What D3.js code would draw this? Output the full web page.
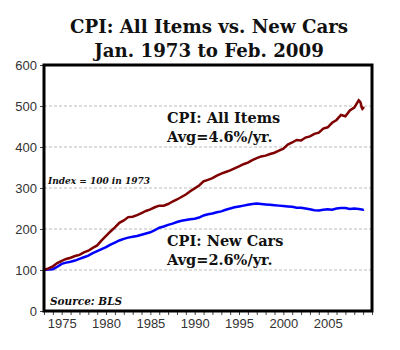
<!DOCTYPE html>
<html>
<head>
<meta charset="utf-8">
<script src="https://cdn.jsdelivr.net/npm/d3@7"></script>
<style>
  body { margin: 0; background: #fff; }
  #chart { width: 400px; height: 350px; }
  .title { font-family: "DejaVu Serif", Georgia, serif; font-weight: bold; font-size: 18.2px; fill: #111; }
  .tick text { font-family: "Liberation Sans", Arial, sans-serif; font-size: 13px; fill: #333; }
  .note { font-family: "DejaVu Serif", Georgia, serif; font-weight: bold; font-style: italic; font-size: 9px; fill: #111; }
  .source { font-size: 10.5px; }
  .label { font-family: "DejaVu Serif", Georgia, serif; font-weight: bold; font-size: 14.5px; fill: #111; }
</style>
</head>
<body>
<div id="chart"></div>
<script>
/* DATA: index, Jan. 1973 = 100 */
var allYears = [1973, 1973.5, 1974, 1974.5, 1975, 1975.5, 1976, 1976.5, 1977, 1977.5,
    1978, 1978.5, 1979, 1979.5, 1980, 1980.5, 1981, 1981.5, 1982, 1982.5,
    1983, 1983.5, 1984, 1984.5, 1985, 1985.5, 1986, 1986.5, 1987, 1987.5,
    1988, 1988.5, 1989, 1989.5, 1990, 1990.5, 1991, 1991.5, 1992, 1992.5,
    1993, 1993.5, 1994, 1994.5, 1995, 1995.5, 1996, 1996.5, 1997, 1997.5,
    1998, 1998.5, 1999, 1999.5, 2000, 2000.5, 2001, 2001.5, 2002, 2002.5,
    2003, 2003.5, 2004, 2004.5, 2005, 2005.5, 2006, 2006.5, 2007, 2007.5,
    2008, 2008.5, 2008.67, 2008.75, 2008.83, 2008.92, 2009, 2009.08];

var allItems = [100, 104, 109, 117, 122, 127, 130, 134, 137, 143,
    147, 154, 160, 172, 183, 194, 204, 215, 221, 229,
    230, 234, 239, 244, 248, 253, 257, 257, 261, 267,
    272, 278, 284, 292, 299, 306, 316, 320, 324, 330,
    335, 339, 343, 348, 353, 358, 362, 368, 373, 377,
    379, 383, 386, 391, 396, 406, 411, 417, 416, 423,
    426, 432, 435, 445, 448, 459, 466, 478, 475, 489,
    496, 514, 510, 505, 497, 493, 495, 498];

var carYears = [1973, 1973.5, 1974, 1974.5, 1975, 1975.5, 1976, 1976.5, 1977, 1977.5,
    1978, 1978.5, 1979, 1979.5, 1980, 1980.5, 1981, 1981.5, 1982, 1982.5,
    1983, 1983.5, 1984, 1984.5, 1985, 1985.5, 1986, 1986.5, 1987, 1987.5,
    1988, 1988.5, 1989, 1989.5, 1990, 1990.5, 1991, 1991.5, 1992, 1992.5,
    1993, 1993.5, 1994, 1994.5, 1995, 1995.5, 1996, 1996.5, 1997, 1997.5,
    1998, 1998.5, 1999, 1999.5, 2000, 2000.5, 2001, 2001.5, 2002, 2002.5,
    2003, 2003.5, 2004, 2004.5, 2005, 2005.5, 2006, 2006.5, 2007, 2007.5,
    2008, 2008.5, 2009, 2009.08];

var newCars = [100, 101, 102, 108, 115, 118, 120, 123, 127, 131,
    135, 141, 146, 151, 156, 162, 167, 172, 176, 179,
    181, 183, 186, 189, 192, 197, 203, 206, 210, 213,
    217, 220, 222, 224, 225, 228, 233, 236, 238, 241,
    243, 247, 250, 253, 255, 257, 259, 261, 262, 261,
    260, 259, 258, 257, 256, 255, 254, 252, 252, 250,
    248, 246, 245, 247, 248, 247, 250, 251, 251, 249,
    250, 249, 247, 248];

var yTicks = [0, 100, 200, 300, 400, 500, 600];
var xLabels = [1975, 1980, 1985, 1990, 1995, 2000, 2005];

/* SVG CANVAS */
var width = 400, height = 350;
var svg = d3.select("#chart").append("svg")
    .attr("width", width)
    .attr("height", height);

var x = d3.scaleLinear().domain([1973, 2010]).range([44, 372]);
var y = d3.scaleLinear().domain([0, 600]).range([311, 65]);

/* TITLE */
svg.append("text").attr("class", "title")
    .attr("x", 209).attr("y", 33).attr("text-anchor", "middle")
    .text("CPI: All Items vs. New Cars");
svg.append("text").attr("class", "title")
    .attr("x", 209).attr("y", 57).attr("text-anchor", "middle")
    .text("Jan. 1973 to Feb. 2009");

/* GRIDLINES */
svg.selectAll("line.grid")
    .data(yTicks.filter(function(d) { return d > 0 && d < 600; }))
    .enter().append("line")
    .attr("class", "grid")
    .attr("x1", x(1973)).attr("x2", x(2010))
    .attr("y1", function(d) { return y(d); })
    .attr("y2", function(d) { return y(d); })
    .attr("stroke", "#bbb")
    .attr("stroke-width", 1)
    .attr("stroke-dasharray", "3,2");

/* AXES */
var yAxis = d3.axisLeft(y).tickValues(yTicks).tickSize(4).tickPadding(3);
svg.append("g")
    .attr("transform", "translate(" + x(1973) + ",0)")
    .call(yAxis)
    .call(function(g) { g.select(".domain").remove(); });

var xAxis = d3.axisBottom(x)
    .tickValues(d3.range(1973, 2011))
    .tickSize(4)
    .tickPadding(4)
    .tickFormat(function(d) { return xLabels.indexOf(d) >= 0 ? d : ""; });
svg.append("g")
    .attr("transform", "translate(0," + y(0) + ")")
    .call(xAxis)
    .call(function(g) { g.select(".domain").remove(); });

svg.selectAll(".tick line").attr("stroke", "#444");

/* LINES */
var line = d3.line()
    .x(function(d) { return x(d[0]); })
    .y(function(d) { return y(d[1]); });

svg.append("path")
    .datum(d3.zip(carYears, newCars))
    .attr("fill", "none")
    .attr("stroke", "#0000ff")
    .attr("stroke-width", 2.5)
    .attr("d", line);

svg.append("path")
    .datum(d3.zip(allYears, allItems))
    .attr("fill", "none")
    .attr("stroke", "#7f0000")
    .attr("stroke-width", 2.5)
    .attr("d", line);

/* PLOT FRAME */
svg.append("rect")
    .attr("x", x(1973)).attr("y", y(600))
    .attr("width", x(2010) - x(1973))
    .attr("height", y(0) - y(600))
    .attr("fill", "none")
    .attr("stroke", "#000")
    .attr("stroke-width", 3);

/* TEXT LABELS */
svg.append("text").attr("class", "note").attr("x", 48).attr("y", 184).text("Index = 100 in 1973");
svg.append("text").attr("class", "note source").attr("x", 50).attr("y", 305).text("Source: BLS");

svg.append("text").attr("class", "label").attr("x", 167).attr("y", 123).text("CPI: All Items");
svg.append("text").attr("class", "label").attr("x", 167).attr("y", 142).text("Avg=4.6%/yr.");
svg.append("text").attr("class", "label").attr("x", 167).attr("y", 246).text("CPI: New Cars");
svg.append("text").attr("class", "label").attr("x", 167).attr("y", 265).text("Avg=2.6%/yr.");
</script>
</body>
</html>
